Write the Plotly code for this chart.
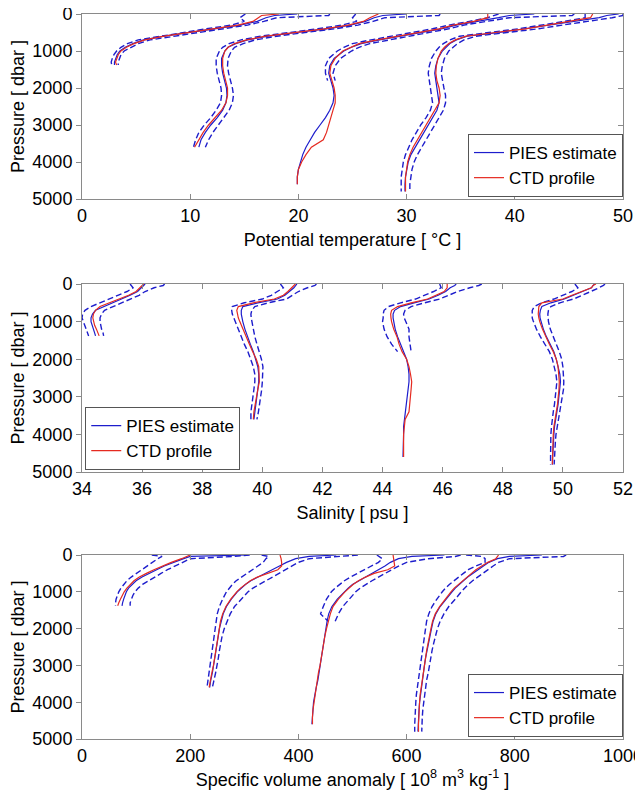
import plotly.graph_objects as go

# ---------------- pressure levels (dbar) for the four casts ----------------
P1 = [0, 40, 100, 200, 300, 400, 500, 600, 700, 800, 900, 1000, 1100, 1200, 1300, 1380]
P2 = [0, 40, 100, 200, 300, 400, 500, 600, 700, 800, 900, 1000, 1200, 1400, 1600, 1800,
      2000, 2200, 2400, 2600, 2800, 3000, 3200, 3400, 3600]
P3 = [0, 40, 100, 200, 300, 400, 500, 600, 700, 800, 900, 1000, 1200, 1400, 1600, 1800,
      2000, 2200, 2400, 2600, 2800, 3000, 3200, 3400, 3600, 3800, 4000, 4200, 4400, 4600]
P4 = [0, 40, 100, 200, 300, 400, 500, 600, 700, 800, 900, 1000, 1200, 1400, 1600, 1800,
      2000, 2200, 2400, 2600, 2800, 3000, 3200, 3400, 3600, 3800, 4000, 4200, 4400, 4600, 4800]

# ---------------- potential temperature (offset profiles) ----------------
th_pies1 = [19.9, 17.8, 17.0, 16.2, 14.6, 12.2, 10.0, 7.6, 5.7, 4.7, 4.0, 3.5, 3.25, 3.1, 3.0, 3.0]
th_ctd1 = [18.2, 16.6, 16.3, 15.8, 14.4, 12.0, 9.9, 7.6, 5.8, 4.8, 4.1, 3.6, 3.35, 3.2, 3.1, 3.2]
th_lo1 = [15.1, 14.9, 14.6, 15.0, 13.8, 11.5, 9.3, 7.0, 5.2, 4.2, 3.6, 3.2, 2.95, 2.8, 2.7, 2.75]
th_hi1 = [22.9, 22.8, 18.0, 16.8, 15.3, 13.0, 10.8, 8.3, 6.3, 5.2, 4.5, 3.9, 3.6, 3.45, 3.35, 3.35]

th_pies2 = [30.0, 27.8, 27.0, 26.2, 24.8, 22.6, 19.8, 17.2, 15.3, 14.2, 13.5, 13.2, 12.9, 12.9, 13.0,
            13.2, 13.35, 13.4, 13.3, 13.0, 12.5, 11.9, 11.4, 11.0, 10.8]
th_ctd2 = [27.4, 27.0, 26.6, 26.0, 24.6, 22.4, 19.6, 17.0, 15.2, 14.1, 13.5, 13.2, 13.0, 13.0, 13.1,
           13.3, 13.45, 13.45, 13.3, 12.9, 12.3, 11.7, 11.2, 10.8, 10.4]
th_lo2 = [25.3, 25.2, 25.0, 25.4, 24.0, 21.8, 19.0, 16.5, 14.7, 13.6, 13.0, 12.7, 12.4, 12.4, 12.5,
          12.7, 12.85, 12.9, 12.8, 12.4, 11.9, 11.3, 10.8, 10.5, 10.3]
th_hi2 = [33.1, 33.0, 28.0, 26.9, 25.5, 23.4, 20.6, 18.0, 16.0, 14.9, 14.1, 13.8, 13.5, 13.45, 13.55,
          13.75, 13.9, 14.0, 13.9, 13.6, 13.1, 12.6, 12.1, 11.7, 11.4]

th_pies3 = [41.8, 39.5, 38.5, 36.5, 34.6, 33.2, 31.2, 29.5, 27.5, 25.8, 24.9, 24.2, 23.3, 22.9, 22.8,
            23.0, 23.2, 23.3, 23.2, 22.9, 22.5, 22.0, 21.5, 21.1, 20.7, 20.4, 20.2, 20.0, 19.9, 19.9]
th_ctd3 = [37.5, 37.5, 37.5, 36.2, 34.3, 33.0, 31.0, 29.3, 27.3, 25.6, 24.8, 24.1, 23.4, 23.0, 22.9,
           23.1, 23.3, 23.4, 23.4, 23.2, 23.0, 22.8, 22.6, 22.3, 21.2, 20.7, 20.3, 20.0, 19.9, 19.9]
th_lo3 = [38.5, 38.0, 37.5, 35.8, 33.9, 32.4, 30.4, 28.7, 26.7, 25.0, 24.2, 23.6, 22.8, 22.5, 22.5, 22.7]
th_hi3 = [45.5, 45.3, 39.5, 37.2, 35.3, 33.9, 32.0, 30.3, 28.3, 26.6, 25.6, 24.9, 23.9, 23.4, 23.2, 23.4]

th_pies4 = [49.6, 48.5, 47.8, 45.5, 43.5, 41.3, 38.6, 35.6, 34.6, 34.0, 33.6, 33.3, 32.9, 32.7, 32.6,
            32.7, 32.85, 32.95, 33.0, 32.8, 32.4, 32.0, 31.6, 31.2, 30.8, 30.4, 30.15, 30.0, 29.9, 29.85, 29.85]
th_ctd4 = [47.2, 47.1, 47.0, 45.0, 43.1, 41.0, 38.2, 35.5, 34.5, 33.9, 33.5, 33.2, 32.9, 32.75, 32.7,
           32.8, 33.0, 33.1, 33.0, 32.6, 32.2, 31.8, 31.4, 31.0, 30.6, 30.3, 30.1, 30.0, 29.9, 29.9, 29.9]
th_lo4 = [46.5, 46.5, 46.5, 44.6, 42.6, 40.3, 37.6, 34.9, 34.0, 33.4, 33.0, 32.7, 32.3, 32.1, 32.0,
          32.1, 32.25, 32.35, 32.4, 32.2, 31.8, 31.3, 30.9, 30.5, 30.2, 29.9, 29.7, 29.6, 29.5, 29.5, 29.5]
th_hi4 = [50.0, 50.0, 49.0, 46.5, 44.4, 42.2, 39.5, 36.4, 35.3, 34.7, 34.3, 33.9, 33.5, 33.3, 33.2,
          33.3, 33.45, 33.6, 33.6, 33.4, 33.0, 32.6, 32.2, 31.8, 31.4, 31.0, 30.7, 30.5, 30.4, 30.3, 30.3]

# ---------------- salinity (offset profiles) ----------------
sal_pies1 = [36.1, 36.05, 36.0, 35.85, 35.6, 35.3, 35.0, 34.7, 34.45, 34.35, 34.3, 34.3, 34.33, 34.38, 34.42, 34.45]
sal_ctd1 = [36.05, 36.0, 35.95, 35.8, 35.55, 35.25, 34.9, 34.6, 34.45, 34.38, 34.36, 34.38, 34.42, 34.48, 34.53, 34.57]
sal_lo1 = [35.6, 35.65, 35.7, 35.5, 35.2, 34.9, 34.6, 34.3, 34.1, 34.02, 34.0, 34.05, 34.1, 34.15, 34.2, 34.22]
sal_hi1 = [36.75, 36.7, 36.4, 36.1, 35.9, 35.6, 35.3, 35.0, 34.75, 34.65, 34.6, 34.6, 34.62, 34.65, 34.7, 34.72]

sal_pies2 = [41.15, 41.12, 41.05, 40.9, 40.75, 40.5, 39.85, 39.35, 39.3, 39.3, 39.32, 39.35, 39.42, 39.5, 39.6,
             39.7, 39.78, 39.85, 39.88, 39.88, 39.85, 39.82, 39.78, 39.75, 39.72]
sal_ctd2 = [41.1, 41.05, 41.0, 40.85, 40.7, 40.4, 39.7, 39.2, 39.15, 39.17, 39.2, 39.25, 39.35, 39.45, 39.57,
            39.68, 39.8, 39.88, 39.9, 39.9, 39.85, 39.8, 39.76, 39.72, 39.7]
sal_lo2 = [40.6, 40.65, 40.7, 40.5, 40.3, 40.0, 39.4, 39.0, 38.98, 39.0, 39.05, 39.1, 39.18, 39.28, 39.4,
           39.52, 39.62, 39.7, 39.75, 39.75, 39.72, 39.68, 39.65, 39.62, 39.62]
sal_hi2 = [41.8, 41.75, 41.5, 41.2, 41.0, 40.8, 40.2, 39.75, 39.65, 39.62, 39.63, 39.65, 39.7, 39.75, 39.82,
           39.9, 39.97, 40.02, 40.02, 40.0, 39.98, 39.95, 39.9, 39.87, 39.82]

sal_pies3 = [46.45, 46.4, 46.25, 46.1, 45.85, 45.55, 45.05, 44.6, 44.4, 44.35, 44.35, 44.37, 44.42, 44.5, 44.6,
             44.7, 44.8, 44.85, 44.88, 44.88, 44.85, 44.82, 44.78, 44.75, 44.72, 44.7, 44.7, 44.7, 44.68, 44.68]
sal_ctd3 = [46.15, 46.15, 46.15, 46.05, 45.8, 45.5, 44.95, 44.5, 44.3, 44.27, 44.28, 44.3, 44.37, 44.48, 44.55,
            44.65, 44.8, 44.88, 44.93, 44.97, 44.95, 44.92, 44.9, 44.88, 44.75, 44.72, 44.7, 44.7, 44.7, 44.7]
sal_lo3 = [45.9, 45.92, 45.95, 45.7, 45.4, 45.1, 44.6, 44.2, 44.05, 44.02, 44.02, 44.0, 44.05, 44.15, 44.3, 44.5]
sal_hi3 = [47.3, 47.2, 46.9, 46.5, 46.2, 45.9, 45.4, 44.95, 44.75, 44.7, 44.72, 44.78, 44.88, 44.88, 44.92, 44.95]

sal_pies4 = [51.05, 51.0, 50.95, 50.65, 50.35, 50.05, 49.6, 49.3, 49.25, 49.23, 49.24, 49.27, 49.35, 49.45, 49.58,
             49.7, 49.78, 49.85, 49.9, 49.92, 49.9, 49.87, 49.84, 49.8, 49.75, 49.72, 49.7, 49.68, 49.67, 49.66, 49.65]
sal_ctd4 = [51.1, 51.0, 50.95, 50.6, 50.3, 50.0, 49.3, 49.2, 49.18, 49.18, 49.2, 49.23, 49.32, 49.43, 49.55,
            49.68, 49.78, 49.84, 49.87, 49.88, 49.87, 49.85, 49.82, 49.78, 49.73, 49.7, 49.68, 49.67, 49.66, 49.65, 49.65]
sal_lo4 = [50.4, 50.45, 50.5, 50.3, 50.0, 49.7, 49.3, 49.05, 48.98, 48.97, 48.98, 49.02, 49.12, 49.25, 49.4,
           49.55, 49.65, 49.72, 49.77, 49.8, 49.78, 49.75, 49.72, 49.68, 49.64, 49.62, 49.6, 49.59, 49.59, 49.59, 49.59]
sal_hi4 = [51.4, 51.35, 51.2, 50.95, 50.65, 50.35, 49.9, 49.6, 49.52, 49.5, 49.5, 49.52, 49.58, 49.67, 49.78,
           49.88, 49.96, 50.0, 50.02, 50.03, 50.02, 49.98, 49.94, 49.9, 49.85, 49.8, 49.77, 49.75, 49.73, 49.72, 49.71]

# ---------------- specific volume anomaly (offset profiles) ----------------
sva_pies1 = [305, 200, 188, 170, 152, 138, 124, 111, 100, 92, 86, 82, 79, 77, 75, 74]
sva_ctd1 = [200, 192, 184, 165, 148, 133, 119, 106, 96, 89, 83, 78, 74, 71, 68, 66]
sva_lo1 = [129, 148, 140, 130, 122, 112, 101, 91, 83, 77, 72, 68, 65, 63, 62, 62]
sva_hi1 = [310, 280, 200, 185, 172, 158, 146, 134, 122, 112, 104, 98, 94, 91, 89, 89]

sva_pies2 = [470, 420, 395, 378, 365, 352, 340, 325, 312, 302, 294, 287, 276, 267, 261,
             257, 254, 252, 250, 248, 246, 244, 241, 238, 236]
sva_ctd2 = [366, 367, 368, 369, 369, 362, 342, 324, 311, 301, 293, 286, 275, 266, 260,
            256, 254, 252, 250, 248, 246, 243, 240, 237, 235]
sva_lo2 = [332, 345, 340, 335, 325, 315, 305, 293, 285, 278, 272, 267, 260, 254, 250,
           248, 246, 244, 243, 241, 239, 237, 235, 233, 231]
sva_hi2 = [510, 470, 420, 400, 388, 375, 362, 350, 338, 326, 316, 307, 294, 282, 274,
           268, 263, 259, 256, 254, 252, 250, 247, 244, 241]

sva_pies3 = [670, 610, 585, 570, 560, 548, 535, 522, 510, 500, 492, 485, 472, 462, 456,
             453, 451, 449, 447, 445, 443, 441, 439, 436, 433, 430, 428, 427, 426, 425]
sva_ctd3 = [575, 575, 576, 577, 578, 565, 540, 524, 511, 501, 493, 486, 474, 464, 459,
            455, 452, 449, 447, 445, 442, 440, 437, 435, 432, 430, 428, 427, 426, 426]
sva_lo3 = [545, 550, 555, 548, 535, 522, 508, 496, 485, 476, 468, 461, 452, 446, 441, 455]
sva_hi3 = [700, 690, 640, 600, 585, 572, 560, 548, 536, 524, 514, 506, 494, 482, 474, 468]

sva_pies4 = [850, 790, 768, 752, 742, 732, 722, 713, 705, 697, 690, 684, 673, 662, 654,
             649, 646, 643, 640, 637, 635, 633, 631, 629, 627, 626, 624, 623, 622, 622, 621]
sva_ctd4 = [770, 768, 765, 750, 738, 728, 720, 712, 703, 695, 688, 682, 671, 661, 653,
            648, 645, 642, 639, 637, 635, 633, 630, 628, 627, 625, 624, 623, 622, 622, 622]
sva_lo4 = [710, 740, 745, 745, 728, 714, 705, 696, 687, 679, 672, 666, 656, 647, 641,
           637, 635, 633, 631, 629, 627, 625, 623, 621, 620, 618, 617, 616, 616, 615, 615]
sva_hi4 = [895, 890, 790, 770, 760, 750, 740, 731, 722, 714, 707, 701, 690, 678, 669,
           662, 657, 653, 650, 647, 645, 643, 640, 637, 635, 633, 631, 630, 629, 629, 628]

# ---------------- axis labels / ticks ----------------
x_titles = ["Potential temperature [ °C ]",
            "Salinity [ psu ]",
            "Specific volume anomaly [ 10<sup>8</sup> m<sup>3</sup> kg<sup>-1</sup> ]"]
x_ranges = [[0, 50], [34, 52], [0, 1000]]
x_dticks = [10, 2, 200]
y_title = "Pressure [ dbar ]"
legend_names = ["PIES estimate", "CTD profile"]

BLUE = "#1d1dcc"
RED = "#e52a20"
GRAY = "#8a8a8a"
FONT = "Liberation Sans, Arial, Helvetica, sans-serif"
FS = 18

panels = [
    [(P1, th_pies1, th_ctd1, th_lo1, th_hi1), (P2, th_pies2, th_ctd2, th_lo2, th_hi2),
     (P3, th_pies3, th_ctd3, th_lo3, th_hi3), (P4, th_pies4, th_ctd4, th_lo4, th_hi4)],
    [(P1, sal_pies1, sal_ctd1, sal_lo1, sal_hi1), (P2, sal_pies2, sal_ctd2, sal_lo2, sal_hi2),
     (P3, sal_pies3, sal_ctd3, sal_lo3, sal_hi3), (P4, sal_pies4, sal_ctd4, sal_lo4, sal_hi4)],
    [(P1, sva_pies1, sva_ctd1, sva_lo1, sva_hi1), (P2, sva_pies2, sva_ctd2, sva_lo2, sva_hi2),
     (P3, sva_pies3, sva_ctd3, sva_lo3, sva_hi3), (P4, sva_pies4, sva_ctd4, sva_lo4, sva_hi4)],
]
legend_ids = ["legend", "legend2", "legend3"]

fig = go.Figure()
for i, profs in enumerate(panels):
    xa = "x" if i == 0 else f"x{i+1}"
    ya = "y" if i == 0 else f"y{i+1}"
    for k, (P, pies, ctd, lo, hi) in enumerate(profs):
        for b in (lo, hi):
            fig.add_trace(go.Scatter(x=b, y=P[:len(b)], mode="lines", xaxis=xa, yaxis=ya,
                                     line=dict(color=BLUE, width=1.4, dash="6px,3px"),
                                     showlegend=False, hoverinfo="skip"))
        fig.add_trace(go.Scatter(x=pies, y=P[:len(pies)], mode="lines", xaxis=xa, yaxis=ya,
                                 line=dict(color=BLUE, width=1.2), name=legend_names[0],
                                 legend=legend_ids[i], showlegend=(k == 0)))
    for k, (P, pies, ctd, lo, hi) in enumerate(profs):
        fig.add_trace(go.Scatter(x=ctd, y=P[:len(ctd)], mode="lines", xaxis=xa, yaxis=ya,
                                 line=dict(color=RED, width=1.2), name=legend_names[1],
                                 legend=legend_ids[i], showlegend=(k == 0)))
    # helper (empty) trace for right-side inward ticks
    fig.add_trace(go.Scatter(x=[], y=[], xaxis=xa, yaxis=f"y{i+4}", showlegend=False, hoverinfo="skip"))

# page body has an 8px margin: figure coordinates = page coordinates - 8
OFF = 8
W, H = 643 - OFF, 799 - OFF
L, R = 82 - OFF, W - (623 - OFF)
T, B = 14 - OFF, H - (739 - OFF)
ph = H - T - B
def frac(top_px, bot_px):
    top_px -= OFF
    bot_px -= OFF
    return [(H - B - bot_px) / ph, (H - B - top_px) / ph]

domains = [frac(14, 199), frac(284, 472), frac(555, 739)]

layout = dict(width=W, height=H, margin=dict(l=L, r=R, t=T, b=B, autoexpand=False),
              paper_bgcolor="white", plot_bgcolor="white",
              font=dict(family=FONT, size=FS, color="black"))
for i in range(3):
    xk = "xaxis" if i == 0 else f"xaxis{i+1}"
    yk = "yaxis" if i == 0 else f"yaxis{i+1}"
    ya = "y" if i == 0 else f"y{i+1}"
    xa = "x" if i == 0 else f"x{i+1}"
    layout[xk] = dict(domain=[0, 1], anchor=ya, range=x_ranges[i], tick0=x_ranges[i][0], dtick=x_dticks[i],
                      ticks="inside", ticklen=5, tickcolor=GRAY, showline=True, linecolor=GRAY, linewidth=1,
                      mirror="ticks", showgrid=False, zeroline=False, automargin=False,
                      ticklabeloverflow="allow",
                      title=dict(text=x_titles[i], standoff=8, font=dict(size=FS)),
                      tickfont=dict(size=FS))
    layout[yk] = dict(domain=domains[i], anchor=xa, range=[5000, 0], dtick=1000,
                      ticks="outside", ticklen=5, tickcolor=GRAY, showline=True, linecolor=GRAY, linewidth=1,
                      mirror=True, showgrid=False, zeroline=False, automargin=False,
                      ticklabeloverflow="allow",
                      title=dict(text=y_title, standoff=4, font=dict(size=FS)),
                      tickfont=dict(size=FS))
    layout[f"yaxis{i+4}"] = dict(overlaying=ya, anchor=xa, side="right", range=[5000, 0], dtick=1000,
                                 ticks="inside", ticklen=5, tickcolor=GRAY, showticklabels=False,
                                 showline=False, showgrid=False, zeroline=False, automargin=False)

leg_common = dict(bgcolor="white", bordercolor="#555555", borderwidth=1,
                  font=dict(family=FONT, size=17, color="black"), tracegroupgap=0)
layout["legend"] = dict(x=1.0, xanchor="right", y=(H - B - (197 - OFF)) / ph, yanchor="bottom", **leg_common)
layout["legend2"] = dict(x=0.006, xanchor="left", y=(H - B - (470 - OFF)) / ph, yanchor="bottom", **leg_common)
layout["legend3"] = dict(x=1.0, xanchor="right", y=(H - B - (737 - OFF)) / ph, yanchor="bottom", **leg_common)

fig.update_layout(**layout)
fig.write_html("out.html")
